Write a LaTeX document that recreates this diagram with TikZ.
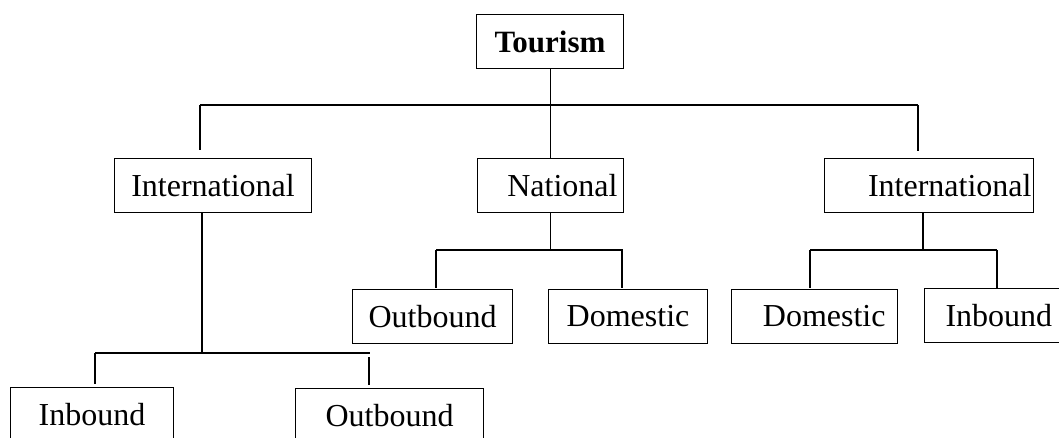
\documentclass[tikz,border=0pt]{standalone}
\usepackage{fontspec}
\setmainfont{Liberation Serif}
\usetikzlibrary{positioning,calc}

\begin{document}
\begin{tikzpicture}[x=1pt,y=-1pt,line width=1.1pt,
	box/.style={draw, minimum height=54pt, inner sep=0pt, anchor=north west, font=\fontsize{32}{38}\selectfont},
	rbox/.style={box, align=right}]
	\useasboundingbox (0,0) rectangle (1059,437);
	
	\node[box, minimum width=147pt, font=\fontsize{31}{37}\selectfont\bfseries] (tour) at (476,14) {Tourism};
	
	\node[box, minimum width=197pt] (intL) at (114,158) {International};
	\node[rbox, inner xsep=6pt, text width=134pt] (nat) at (477,158) {National};
	\node[rbox, inner xsep=2pt, text width=205pt] (intR) at (824,158) {International};
	
	\node[box, minimum width=160pt] (outM) at (352,289) {Outbound};
	\node[box, minimum width=159pt] (domM) at (548,289) {Domestic};
	\node[rbox, inner xsep=12pt, text width=142pt] (domR) at (731,289) {Domestic};
	\node[box, align=left, inner xsep=21pt, text width=110pt] (inR) at (924,288) {Inbound};
	
	\node[box, minimum width=163pt] (inL) at (10,387) {Inbound};
	\node[box, minimum width=188pt] (outL) at (295,388) {Outbound};
	
	% top level
	\coordinate (tl) at (200,105);
	\coordinate (tr) at (918,105);
	\draw (tour.south) -- (tour.south |- nat.north);
	\draw (tl) -- (tr);
	\draw (tl) -- ($(tl |- intL.north)+(0,-8)$);
	\draw (tr) -- ($(tr |- intR.north)+(0,-7)$);
	
	% left branch
	\coordinate (lj) at (202,353);
	\coordinate (lbl) at (95,353);
	\coordinate (lbr) at (370,353);
	\draw (lj |- intL.south) -- (lj);
	\draw (lbl) -- (lbr);
	\draw (lbl) -- ($(lbl |- inL.north)+(0,-3)$);
	\draw ($(lbr)+(-1,4)$) -- ($(lbr |- outL.north)+(-1,-3)$);
	
	% national
	\coordinate (nbl) at (436,250);
	\coordinate (nbr) at (623,250);
	\draw (nat.south) -- (nat.south |- nbl);
	\draw (nbl) -- (nbr);
	\draw (nbl) -- ($(nbl |- outM.north)+(0,-1)$);
	\draw ($(nbr)+(-1,0)$) -- ($(nbr |- domM.north)+(-1,-1)$);
	
	% right branch
	\coordinate (rj) at (923,250);
	\coordinate (rbl) at (810,250);
	\coordinate (rbr) at (997,250);
	\draw (rj |- intR.south) -- (rj);
	\draw (rbl) -- (rbr);
	\draw (rbl) -- ($(rbl |- domR.north)+(0,-1)$);
	\draw (rbr) -- ($(rbr |- inR.north)+(0,0)$);
\end{tikzpicture}
\end{document}
